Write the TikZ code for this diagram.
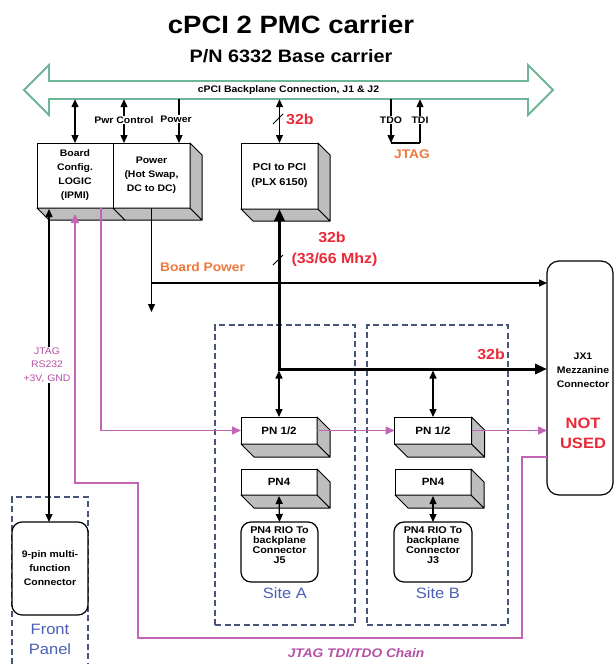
\documentclass[tikz,border=0pt]{standalone}
\usepackage{fontspec}
\setmainfont[FakeStretch=1.1]{Liberation Sans}
\usetikzlibrary{arrows.meta,calc}
\definecolor{bpgreen}{RGB}{110,180,150}
\definecolor{jmag}{RGB}{195,100,180}
\definecolor{jmagtxt}{RGB}{180,80,165}
\definecolor{dashblue}{RGB}{70,85,120}
\definecolor{bred}{RGB}{235,40,55}
\definecolor{borange}{RGB}{238,120,60}
\definecolor{sblue}{RGB}{75,95,180}
\definecolor{shade}{RGB}{190,190,190}
\newcommand\fsz[2]{\fontsize{#1}{#2}\selectfont}
\newcommand\facesBR[2]{%
  \filldraw[face] (#1.south west) -- (#1.south east) -- ++(#2,#2) -- ($(#1.south west)+(#2,#2)$) -- cycle;
  \filldraw[face] (#1.north east) -- ++(#2,#2) -- ($(#1.south east)+(#2,#2)$) -- (#1.south east) -- cycle;}
\newcommand\faceB[2]{%
  \filldraw[face] (#1.south west) -- (#1.south east) -- ++(#2,#2) -- ($(#1.south west)+(#2,#2)$) -- cycle;}
\begin{document}
\begin{tikzpicture}[x=1pt,y=-1pt,
  front/.style={draw, fill=white, line width=1pt, inner sep=0pt, outer sep=0pt, align=center, font=\bfseries\fsz{9.5}{14}},
  rbox/.style={draw, fill=white, line width=1.2pt, rounded corners=10pt, inner sep=0pt, outer sep=0pt, align=center, font=\bfseries\fsz{9.5}{14}},
  face/.style={fill=shade, draw=black, line width=1pt, line join=round},
  ar/.style={line width=1.3pt, -{Triangle[length=8pt,width=7pt]}},
  dar/.style={line width=1.3pt, {Triangle[length=8pt,width=7pt]}-{Triangle[length=8pt,width=7pt]}},
  bus/.style={line width=3pt, {Triangle[length=12pt,width=10pt]}-{Triangle[length=12pt,width=10pt]}},
  jt/.style={draw=jmag, line width=1.4pt, -{Triangle[length=9pt,width=8pt]}, color=jmag},
  site/.style={draw=dashblue, dashed, dash pattern=on 6pt off 3.5pt, line width=1.1pt},
  lab/.style={fill=white, inner sep=1pt, font=\bfseries\fsz{9.5}{11}},
  red/.style={text=bred, font=\bfseries\fsz{14.5}{16}}
]
\useasboundingbox (0,0) rectangle (615,664);

% titles
\node[font=\bfseries\fsz{25}{28}] (title) at (291,25) {cPCI 2 PMC carrier};
\node[font=\bfseries\fsz{18}{20}] (sub) at (291,56) {P/N 6332 Base carrier};

% backplane arrow
\draw[draw=bpgreen, line width=1.8pt, fill=white, line join=miter]
  (24,90) -- (49,65) -- (49,81) -- (528,81) -- (528,65) -- (553,90) -- (528,115) -- (528,99) -- (49,99) -- (49,115) -- cycle;
\node[minimum width=479, minimum height=18, inner sep=0pt, font=\bfseries\fsz{9.5}{10}] (bp) at (288.5,90) {cPCI Backplane Connection, J1 \& J2};

% dashed sites
\node[site, minimum width=140, minimum height=300] (siteA) at (285,475) {};
\node[site, minimum width=141, minimum height=300] (siteB) at (437.5,475) {};
\draw[site] (12,664) -- (12,497) -- (88,497) -- (88,664);

% top boxes
\node[front, minimum width=76, minimum height=65] (bc) at (75,175.5) {Board\\Config.\\LOGIC\\(IPMI)};
\node[front, minimum width=77, minimum height=65] (pw) at (151.5,175.5) {Power\\(Hot Swap,\\DC to DC)};
\faceB{bc}{12}
\facesBR{pw}{12}
\node[front, minimum width=77, minimum height=66, font=\bfseries\fsz{10}{15}] (pci) at (279.5,176) {PCI to PCI\\(PLX 6150)};
\facesBR{pci}{12}

% site boxes
\node[front, font=\bfseries\fsz{10.5}{12}, minimum width=76, minimum height=27] (pnA) at (279,430.5) {PN 1/2};
\facesBR{pnA}{13}
\node[front, font=\bfseries\fsz{10.5}{12}, minimum width=76, minimum height=26] (pn4A) at (279,482) {PN4};
\facesBR{pn4A}{13}
\node[rbox, minimum width=77, minimum height=60] (rioA) at (279.5,552) {};
\node[font=\bfseries\fsz{9.8}{10}, align=center, inner sep=0pt] (rioAt) at (279.5,545) {PN4 RIO To\\backplane\\Connector\\J5};
\node[front, font=\bfseries\fsz{10.5}{12}, minimum width=77, minimum height=27] (pnB) at (433,430.5) {PN 1/2};
\facesBR{pnB}{13}
\node[front, font=\bfseries\fsz{10.5}{12}, minimum width=76, minimum height=26] (pn4B) at (433,482) {PN4};
\facesBR{pn4B}{13}
\node[rbox, minimum width=78, minimum height=60] (rioB) at (433,552) {};
\node[font=\bfseries\fsz{9.8}{10}, align=center, inner sep=0pt] (rioBt) at (433,545) {PN4 RIO To\\backplane\\Connector\\J3};
\node[text=sblue, font=\fsz{15}{16}] (sA) at (285,593) {Site A};
\node[text=sblue, font=\fsz{15}{16}] (sB) at (438,593) {Site B};

% JX1
\node[rbox, minimum width=66, minimum height=234, rounded corners=12pt] (jx) at (580,378) {};
\node[font=\bfseries\fsz{9.5}{14}, align=center] (jxt) at (583,370) {JX1\\Mezzanine\\Connector};
\node[text=bred, font=\bfseries\fsz{15}{20}, align=center] (nu) at (583,433) {NOT\\USED};

% front panel
\node[rbox, minimum width=76, minimum height=93] (nine) at (50,568.5) {9-pin multi-\\function\\Connector};
\node[text=sblue, font=\fsz{15}{20}, align=center] (fp) at (50,639) {Front\\Panel};

% backplane connections
\draw[dar] (bp.south -| bc.north) -- (bc.north);
\coordinate (pcx) at (124,143);
\draw[dar] (bp.south -| pcx) -- (pcx);
\node[lab] (pcl) at (124,120) {Pwr Control};
\coordinate (pwx) at (179,143);
\draw[ar] (bp.south -| pwx) -- (pwx);
\node[lab] (pwl) at (176,119) {Power};
\draw[dar] (bp.south -| pci.north) -- (pci.north);
\draw[line width=1pt] (273,124) -- (283,114);
\node[red, anchor=west, inner sep=0pt] (b32a) at (286,119) {32b};

% JTAG
\coordinate (tdo) at (391,143);
\coordinate (tdi) at (420,143);
\draw[ar] (bp.south -| tdo) -- (tdo);
\draw[ar] (tdi) -- (bp.south -| tdi);
\draw[line width=1.2pt] (tdo) -- (tdi);
\node[lab] (tdol) at (391,120) {TDO};
\node[lab] (tdil) at (420,120) {TDI};
\node[text=borange, font=\bfseries\fsz{12.5}{14}] (jtag) at (412,154) {JTAG};

% board power
\draw[ar] (pw.south) -- ++(0,104);
\coordinate (bpj) at (151.5,283);
\draw[ar] (bpj) -- (bpj -| jx.west);
\node[text=borange, font=\bfseries\fsz{12.5}{14}] (bpl) at (202.5,267) {Board Power};

% PCI bus
\coordinate (busc) at (279.5,369);
\draw[bus] (pci.south) -- (busc) -- (busc -| jx.west);
\draw[line width=1pt] (273,265) -- (283,255);
\node[red] (b32b) at (332,237) {32b};
\node[red] (mhz) at (334.5,260) {(33/66 Mhz)};
\node[red] (b32c) at (491,354) {32b};
\draw[dar] ($(pnA.north |- busc)+(0,1.5)$) -- (pnA.north);
\draw[dar] ($(pnB.north |- busc)+(0,1.5)$) -- (pnB.north);
\draw[dar] ($(pn4A.south)+(0,1)$) -- (rioA.north);
\draw[dar] ($(pn4B.south)+(0,1)$) -- (rioB.north);

% front panel line
\coordinate (fpx) at (49,209);
\draw[dar] (fpx) -- (fpx |- nine.north);
\node[text=jmagtxt, fill=white, inner sep=1pt, align=center, font=\fsz{9.5}{13.5}] (jrl) at (47,365) {JTAG\\RS232\\+3V, GND};

% magenta JTAG chain
\draw[jt] ([xshift=26pt]bc.south) |- (pnA.west);
\draw[jt] (pnA.east) -- (pnB.west);
\draw[jt] (pnB.east) -- (pnB.east -| jx.west);
\coordinate (c1) at (522,457);
\coordinate (c2) at (522,638);
\coordinate (c3) at (138,638);
\coordinate (c4) at (138,483);
\coordinate (c5) at (75,483);
\draw[jt] (c1 -| jx.west) -- (c1) -- (c2) -- (c3) -- (c4) -- (c5) -- ($(bc.south)+(0,6)$);
\node[text=jmagtxt, font=\bfseries\itshape\fsz{12.5}{14}] (chain) at (356,653) {JTAG TDI/TDO Chain};
\end{tikzpicture}
\end{document}
